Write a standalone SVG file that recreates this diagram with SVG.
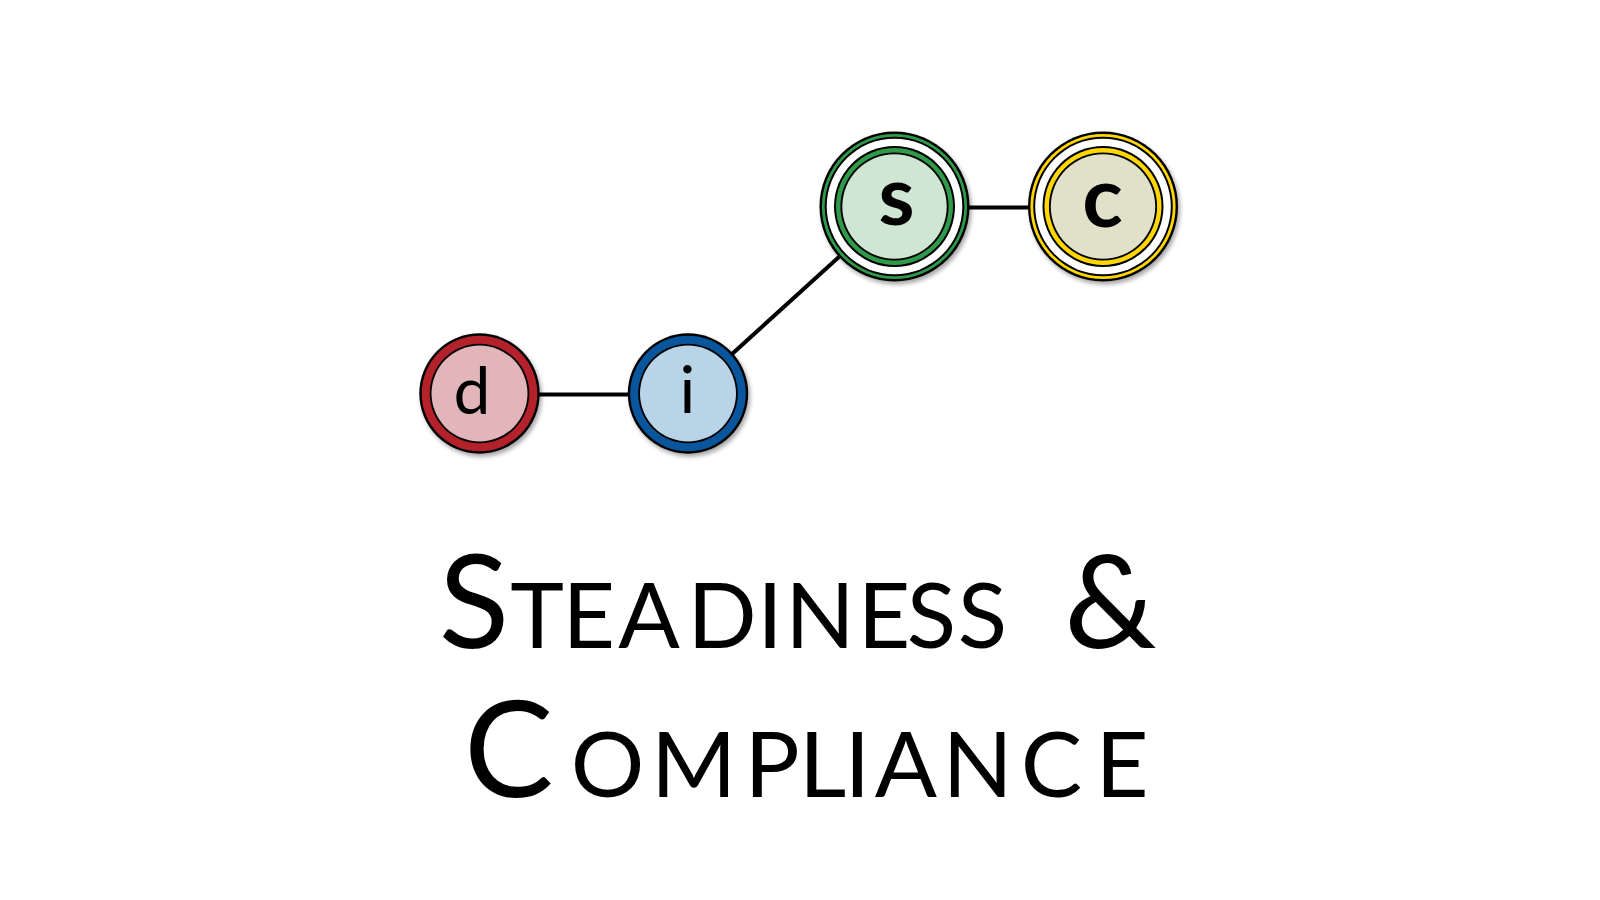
<svg xmlns="http://www.w3.org/2000/svg" width="1600" height="900" viewBox="0 0 1600 900">
<defs>
<filter id="sh" x="-20%" y="-20%" width="150%" height="150%">
<feDropShadow dx="2" dy="3" stdDeviation="2" flood-color="#000" flood-opacity="0.35"/>
</filter>
</defs>
<style>
.k{fill:#000}
.w{fill:#fff}
.edge{stroke:#000;stroke-width:4;fill:none}
.lt{font-family:Lato,"Liberation Sans",sans-serif;font-weight:400;fill:#000;text-anchor:middle}
.bd{font-family:Lato,"Liberation Sans",sans-serif;font-weight:700;fill:#000;text-anchor:middle}
.title{font-family:Lato,"Liberation Sans",sans-serif;font-weight:400;fill:#000;text-anchor:middle}
</style>
<rect width="1600" height="900" fill="#fff"/>
<g id="connectors">
<line class="edge" x1="480" y1="394.5" x2="688" y2="394.5"/>
<line class="edge" x1="688" y1="394" x2="894.5" y2="206.5"/>
<line class="edge" x1="894.5" y1="207.5" x2="1103" y2="207.5"/>
</g>
<g id="node-d">
<circle cx="479.5" cy="393.5" r="60.2" class="k" filter="url(#sh)"/>
<circle cx="479.5" cy="393.5" r="57.8" fill="#b3212b"/>
<circle cx="479.5" cy="393.5" r="49.8" class="k"/>
<circle cx="479.5" cy="393.5" r="48" fill="#e1b5ba"/>
<text class="lt" x="472" y="414" font-size="66">d</text>
</g>
<g id="node-i">
<circle cx="688" cy="393.5" r="60.2" class="k" filter="url(#sh)"/>
<circle cx="688" cy="393.5" r="57.8" fill="#0a569c"/>
<circle cx="688" cy="393.5" r="49.8" class="k"/>
<circle cx="688" cy="393.5" r="48" fill="#bad4e7"/>
<text class="lt" x="687.5" y="413" font-size="66">i</text>
</g>
<g id="node-s">
<circle cx="894.5" cy="206.5" r="75" class="k" filter="url(#sh)"/>
<circle cx="894.5" cy="206.5" r="72.6" fill="#2f9a4a"/>
<circle cx="894.5" cy="206.5" r="69.8" class="k"/>
<circle cx="894.5" cy="206.5" r="67.8" class="w"/>
<circle cx="894.5" cy="206.5" r="60.5" class="k"/>
<circle cx="894.5" cy="206.5" r="58.5" fill="#2f9a4a"/>
<circle cx="894.5" cy="206.5" r="54.1" class="k"/>
<circle cx="894.5" cy="206.5" r="52.2" fill="#cfe6d3"/>
<text class="bd" x="896.5" y="225" font-size="82">s</text>
</g>
<g id="node-c">
<circle cx="1103" cy="206.5" r="75" class="k" filter="url(#sh)"/>
<circle cx="1103" cy="206.5" r="72.6" fill="#ffd600"/>
<circle cx="1103" cy="206.5" r="69.8" class="k"/>
<circle cx="1103" cy="206.5" r="67.8" class="w"/>
<circle cx="1103" cy="206.5" r="60.5" class="k"/>
<circle cx="1103" cy="206.5" r="58.5" fill="#ffd600"/>
<circle cx="1103" cy="206.5" r="54.1" class="k"/>
<circle cx="1103" cy="206.5" r="52.2" fill="#e1e1c9"/>
<text class="bd" x="1102.5" y="227" font-size="84">c</text>
</g>
<g id="title">
<text class="title" y="648"><tspan x="474" font-size="130">S</tspan><tspan x="537 588.8 649 722 770 820 884 931.5 982.5" font-size="91">TEADINESS</tspan><tspan x="1110.5" font-size="130">&amp;</tspan></text>
<text class="title" y="797"><tspan x="508.8" font-size="134">C</tspan><tspan x="607.6 693.8 772 822.7 857.3 905.8 977.5 1051.5 1122" font-size="92">OMPLIANCE</tspan></text>
</g>
</svg>
